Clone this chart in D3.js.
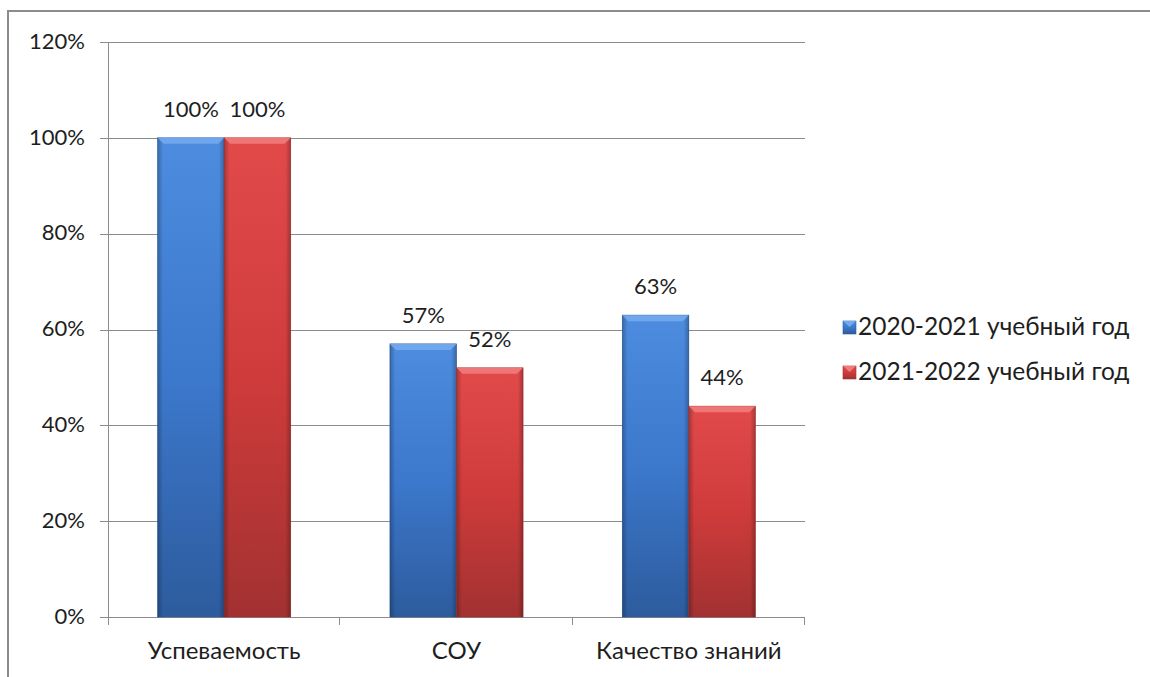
<!DOCTYPE html>
<html>
<head>
<meta charset="utf-8">
<script src="https://cdn.jsdelivr.net/npm/d3@7"></script>
<style>
  body { margin: 0; background: #fff; }
  svg text { font-family: Lato, "Open Sans", sans-serif; fill: #1e1e1e; }
</style>
</head>
<body>
<script>
// Chart data
var categories = ["Успеваемость", "СОУ", "Качество знаний"];
var seriesNames = ["2020-2021 учебный год", "2021-2022 учебный год"];
var values2021 = [100, 57, 63];
var values2022 = [100, 52, 44];
var yTicks = [0, 20, 40, 60, 80, 100, 120];

var seriesValues = [values2021, values2022];
var colors = [
  {light: "#4d8cde", mid: "#3c78cc", dark: "#2d5b9d", top: "#73a9ee"},
  {light: "#e24a4a", mid: "#cf3b3b", dark: "#a23131", top: "#ef7b7b"}
];

var width = 1150, height = 677;
var margin = {top: 42, left: 108, right: 345, bottom: 60};
var plotW = width - margin.left - margin.right;
var plotH = height - margin.top - margin.bottom;

var svg = d3.select("body").append("svg")
    .attr("width", width)
    .attr("height", height);

// Outer frame
svg.append("path")
    .attr("d", "M8,677 L8,11 L1150,11")
    .attr("fill", "none")
    .attr("stroke", "#8c8c8c")
    .attr("stroke-width", 2);

var defs = svg.append("defs");
colors.forEach(function(c, i) {
  var g = defs.append("linearGradient")
      .attr("id", "grad" + i)
      .attr("x1", 0).attr("y1", 0).attr("x2", 0).attr("y2", 1);
  g.append("stop").attr("offset", "0%").attr("stop-color", c.light);
  g.append("stop").attr("offset", "50%").attr("stop-color", c.mid);
  g.append("stop").attr("offset", "100%").attr("stop-color", c.dark);
  var s = defs.append("linearGradient")
      .attr("id", "side" + i)
      .attr("x1", 0).attr("y1", 0).attr("x2", 1).attr("y2", 0);
  s.append("stop").attr("offset", "0%").attr("stop-color", "#000").attr("stop-opacity", 0.25);
  s.append("stop").attr("offset", "8%").attr("stop-color", "#000").attr("stop-opacity", 0);
  s.append("stop").attr("offset", "92%").attr("stop-color", "#000").attr("stop-opacity", 0);
  s.append("stop").attr("offset", "100%").attr("stop-color", "#000").attr("stop-opacity", 0.25);
});

var g = svg.append("g")
    .attr("transform", "translate(" + margin.left + "," + margin.top + ")");

var x0 = d3.scaleBand()
    .domain(categories)
    .range([0, plotW])
    .paddingInner(0.427)
    .paddingOuter(0.2135);

var x1 = d3.scaleBand()
    .domain([0, 1])
    .range([0, x0.bandwidth()]);

var y = d3.scaleLinear()
    .domain([0, 120])
    .range([plotH, 0]);

// Gridlines
g.selectAll(".grid")
  .data(yTicks)
  .enter().append("line")
    .attr("x1", -8)
    .attr("x2", plotW)
    .attr("y1", function(d) { return Math.round(y(d)) + 0.5; })
    .attr("y2", function(d) { return Math.round(y(d)) + 0.5; })
    .attr("stroke", "#8c8c8c")
    .attr("stroke-width", 1);

// Y axis line
g.append("line")
    .attr("x1", 0.5).attr("x2", 0.5)
    .attr("y1", 0).attr("y2", plotH + 8)
    .attr("stroke", "#8c8c8c");

// Category boundary ticks
var step = x0.step();
g.selectAll(".ctick")
  .data(d3.range(1, categories.length + 1))
  .enter().append("line")
    .attr("x1", function(d) { return Math.round(d * step) - 0.5; })
    .attr("x2", function(d) { return Math.round(d * step) - 0.5; })
    .attr("y1", plotH)
    .attr("y2", plotH + 8)
    .attr("stroke", "#8c8c8c");

// Y tick labels
g.selectAll(".ylab")
  .data(yTicks)
  .enter().append("text")
    .attr("x", -23)
    .attr("y", function(d) { return y(d) - 1; })
    .attr("dy", "0.35em")
    .attr("text-anchor", "end")
    .style("font-size", "22px")
    .text(function(d) { return d + "%"; });

// Category labels
g.selectAll(".xlab")
  .data(categories)
  .enter().append("text")
    .attr("x", function(d) { return x0(d) + x0.bandwidth() / 2; })
    .attr("y", plotH + 42)
    .attr("text-anchor", "middle")
    .style("font-size", "24px")
    .text(function(d) { return d; });

// Bars
var bars = [];
categories.forEach(function(c, ci) {
  seriesValues.forEach(function(vals, si) {
    bars.push({cat: c, s: si, v: vals[ci]});
  });
});

var barG = g.selectAll(".bar")
  .data(bars)
  .enter().append("g")
    .attr("transform", function(d) { return "translate(" + (x0(d.cat) + x1(d.s)) + ",0)"; });

var bw = x1.bandwidth();
barG.append("rect")
    .attr("x", 0)
    .attr("y", function(d) { return y(d.v); })
    .attr("width", bw)
    .attr("height", function(d) { return plotH - y(d.v); })
    .attr("fill", function(d) { return "url(#grad" + d.s + ")"; })
    .attr("stroke", function(d) { return colors[d.s].dark; })
    .attr("stroke-width", 0.6);

barG.append("rect")
    .attr("x", 0)
    .attr("y", function(d) { return y(d.v); })
    .attr("width", bw)
    .attr("height", function(d) { return plotH - y(d.v); })
    .attr("fill", function(d) { return "url(#side" + d.s + ")"; });

// Top bevel
barG.append("path")
    .attr("d", function(d) {
      var t = y(d.v), b = 6;
      return "M0," + t + " L" + bw + "," + t + " L" + (bw - b) + "," + (t + b) + " L" + b + "," + (t + b) + "Z";
    })
    .attr("fill", function(d) { return colors[d.s].top; })
    .attr("opacity", 0.9);

// Value labels
barG.append("text")
    .attr("x", bw / 2)
    .attr("y", function(d) { return y(d.v) - 21; })
    .attr("text-anchor", "middle")
    .style("font-size", "22px")
    .text(function(d) { return d.v + "%"; });

// Legend
var legend = svg.append("g")
    .attr("transform", "translate(843,321)");
seriesNames.forEach(function(name, i) {
  var row = legend.append("g").attr("transform", "translate(0," + (i * 45) + ")");
  row.append("rect")
      .attr("width", 13).attr("height", 13)
      .attr("fill", "url(#grad" + i + ")")
      .attr("stroke", colors[i].dark)
      .attr("stroke-width", 0.6);
  row.append("path")
      .attr("d", "M0,0 L13,0 L6.5,6Z")
      .attr("fill", colors[i].top);
  row.append("text")
      .attr("x", 15)
      .attr("y", 14)
      .style("font-size", "24.5px")
      .text(name);
});
</script>
</body>
</html>
